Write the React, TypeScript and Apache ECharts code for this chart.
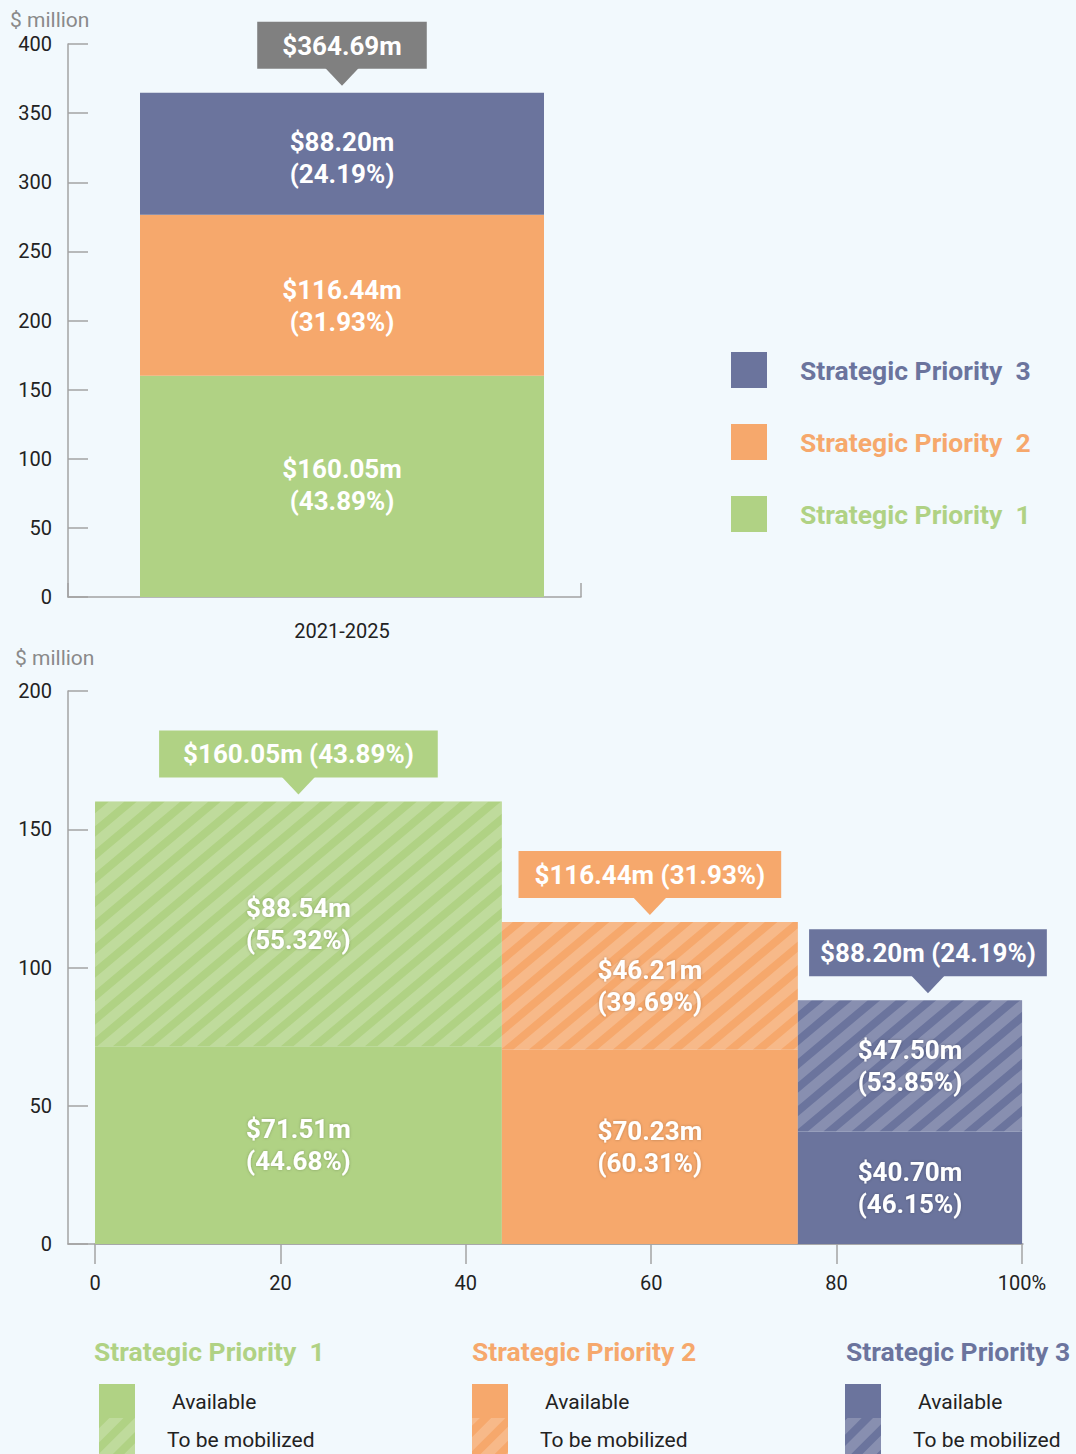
import React, { useEffect, useRef } from 'react';
import * as echarts from 'echarts';

// ---------------- data ----------------
const categories = ['2021-2025'];
const seriesNames = ['Strategic Priority  1', 'Strategic Priority  2', 'Strategic Priority  3'];
const bottomTitles = ['Strategic Priority  1', 'Strategic Priority 2', 'Strategic Priority 3'];
const priorityTotals = [160.05, 116.44, 88.2];
const priorityShares = [43.89, 31.93, 24.19];
const grandTotal = 364.69;
const availableAmounts = [71.51, 70.23, 40.7];
const availableShares = [44.68, 60.31, 46.15];
const mobilizeAmounts = [88.54, 46.21, 47.5];
const mobilizeShares = [55.32, 39.69, 53.85];
const legendRowLabels = ['Available', 'To be mobilized'];
const shareTickLabels = ['0', '20', '40', '60', '80', '100%'];
const unitLabel = '$ million';

// ---------------- style ----------------
const COLORS = ['#b0d284', '#f6a86c', '#6b749d'];
const TOTAL_COLOR = '#808080';
const BG = '#f2f9fd';
const AXIS = '#a3a3a3';
const FONT = 'Roboto, "Noto Sans", sans-serif';
const HATCH = 'rgba(255,255,255,0.2)';
const calloutNudge = [0, 0, 18];
const calloutPadX = [24, 16, 11];
const topCalloutPadX = 25;
const topLabelNudge = [-1, 11, 4];
const BIG = 26;

type Pt = [number, number];

function clipPoly(poly: Pt[], f: (p: Pt) => number): Pt[] {
  const out: Pt[] = [];
  const n = poly.length;
  for (let i = 0; i < n; i++) {
    const a = poly[i];
    const b = poly[(i + 1) % n];
    const fa = f(a);
    const fb = f(b);
    if (fa >= 0) out.push(a);
    if ((fa >= 0) !== (fb >= 0)) {
      const t = fa / (fa - fb);
      out.push([a[0] + t * (b[0] - a[0]), a[1] + t * (b[1] - a[1])]);
    }
  }
  return out;
}

// "/" stripes at angle theta (deg) above horizontal
function stripePolys(x0: number, y0: number, x1: number, y1: number, period = 18, width = 10, theta = 40): Pt[][] {
  const polys: Pt[][] = [];
  const sn = Math.sin((theta * Math.PI) / 180);
  const cs = Math.cos((theta * Math.PI) / 180);
  const s = (p: Pt) => p[0] * sn + p[1] * cs;
  const corners: Pt[] = [
    [x0, y0],
    [x1, y0],
    [x1, y1],
    [x0, y1],
  ];
  const vals = corners.map(s);
  const sMin = Math.min(...vals);
  const sMax = Math.max(...vals);
  for (let c = Math.floor(sMin / period) * period; c < sMax; c += period) {
    let poly = corners.slice();
    poly = clipPoly(poly, (p) => s(p) - c);
    poly = clipPoly(poly, (p) => c + width - s(p));
    if (poly.length >= 3) polys.push(poly);
  }
  return polys;
}

const money = (v: number) => `$${v.toFixed(2)}m`;

function buildOption() {
  // Marimekko rectangles
  const rectData: number[][] = [];
  const calloutData: number[][] = [];
  let cum = 0;
  priorityShares.forEach((share, i) => {
    const x0 = cum;
    const x1 = cum + share;
    cum = x1;
    const top = availableAmounts[i] + mobilizeAmounts[i];
    rectData.push([x0, x1, 0, availableAmounts[i], i, 0]);
    rectData.push([x0, x1, availableAmounts[i], top, i, 1]);
    calloutData.push([(x0 + x1) / 2, top, i]);
  });

  const topBars = seriesNames.map((name, i) => ({
    name,
    type: 'bar',
    stack: 'total',
    xAxisIndex: 0,
    yAxisIndex: 0,
    barWidth: 404,
    data: [priorityTotals[i]],
    itemStyle: { color: COLORS[i] },
    label: {
      show: true,
      position: 'inside',
      offset: [0, topLabelNudge[i]],
      color: '#fff',
      fontSize: BIG,
      fontWeight: 'bold',
      fontFamily: FONT,
      lineHeight: 32,
      formatter: (p: any) => `${money(p.value)}\n(${priorityShares[i].toFixed(2)}%)`,
    },
  }));

  const callout = (x: number, yTop: number, color: string, text: string, padX: number) => {
    const boxBottom = yTop - 24;
    return [
      {
        type: 'polygon',
        shape: { points: [[x - 17, boxBottom - 1], [x + 17, boxBottom - 1], [x, boxBottom + 17]] },
        style: { fill: color },
      },
      {
        type: 'text',
        x,
        y: boxBottom,
        style: {
          text,
          fill: '#fff',
          fontSize: BIG,
          fontWeight: 'bold',
          fontFamily: FONT,
          align: 'center',
          verticalAlign: 'bottom',
          backgroundColor: color,
          padding: [11, padX, 10, padX],
        },
      },
    ];
  };

  const topCallout = {
    type: 'custom',
    name: 'total',
    xAxisIndex: 0,
    yAxisIndex: 0,
    z: 5,
    data: [[0, grandTotal]],
    renderItem: (params: any, api: any) => {
      const p = api.coord([api.value(0), api.value(1)]);
      return {
        type: 'group',
        children: callout(p[0], p[1], TOTAL_COLOR, money(api.value(1)), topCalloutPadX),
      };
    },
  };

  const rects = {
    type: 'custom',
    name: 'mekko',
    xAxisIndex: 2,
    yAxisIndex: 2,
    encode: { x: [0, 1], y: [2, 3] },
    data: rectData,
    renderItem: (params: any, api: any) => {
      const x0 = api.value(0);
      const x1 = api.value(1);
      const y0 = api.value(2);
      const y1 = api.value(3);
      const i = api.value(4);
      const kind = api.value(5);
      const tl = api.coord([x0, y1]);
      const br = api.coord([x1, y0]);
      const w = br[0] - tl[0];
      const h = br[1] - tl[1];
      const children: any[] = [
        { type: 'rect', shape: { x: tl[0], y: tl[1], width: w, height: h }, style: { fill: COLORS[i] } },
      ];
      if (kind === 1) {
        stripePolys(tl[0], tl[1], br[0], br[1]).forEach((pts) =>
          children.push({ type: 'polygon', shape: { points: pts }, style: { fill: HATCH } })
        );
      }
      const v = kind === 1 ? mobilizeAmounts[i] : availableAmounts[i];
      const pct = kind === 1 ? mobilizeShares[i] : availableShares[i];
      children.push({
        type: 'text',
        x: tl[0] + w / 2,
        y: tl[1] + h / 2,
        style: {
          text: `${money(v)}\n(${pct.toFixed(2)}%)`,
          fill: '#fff',
          fontSize: BIG,
          fontWeight: 'bold',
          fontFamily: FONT,
          align: 'center',
          verticalAlign: 'middle',
          lineHeight: 32,
          textShadowColor: 'rgba(0,0,0,0.25)',
          textShadowBlur: 3,
        },
      });
      return { type: 'group', children };
    },
  };

  const bottomCallouts = {
    type: 'custom',
    name: 'callouts',
    xAxisIndex: 2,
    yAxisIndex: 2,
    z: 5,
    encode: { x: 0, y: 1 },
    data: calloutData,
    renderItem: (params: any, api: any) => {
      const i = api.value(2);
      const p = api.coord([api.value(0), api.value(1)]);
      return {
        type: 'group',
        children: callout(
          p[0] + calloutNudge[i],
          p[1],
          COLORS[i],
          `${money(priorityTotals[i])} (${priorityShares[i].toFixed(2)}%)`,
          calloutPadX[i]
        ),
      };
    },
  };

  // texts and bottom legend (graphic)
  const graphic: any[] = [
    { type: 'text', x: 10, y: 20, style: { text: unitLabel, fill: '#8a8a8a', fontSize: 21, fontFamily: FONT, verticalAlign: 'middle' } },
    { type: 'text', x: 15, y: 658, style: { text: unitLabel, fill: '#8a8a8a', fontSize: 21, fontFamily: FONT, verticalAlign: 'middle' } },
  ];
  const titleX = [94, 472, 846];
  const swatchX = [99, 472, 845];
  bottomTitles.forEach((t, i) => {
    graphic.push({
      type: 'text',
      x: titleX[i],
      y: 1351,
      style: { text: t, fill: COLORS[i], fontSize: 26.5, fontWeight: 'bold', fontFamily: FONT, verticalAlign: 'middle' },
    });
    const sx = swatchX[i];
    graphic.push({ type: 'rect', shape: { x: sx, y: 1384, width: 36, height: 34 }, style: { fill: COLORS[i] } });
    graphic.push({ type: 'rect', shape: { x: sx, y: 1418, width: 36, height: 36 }, style: { fill: COLORS[i] } });
    stripePolys(sx, 1418, sx + 36, 1454, 18, 10, 45).forEach((pts) =>
      graphic.push({ type: 'polygon', shape: { points: pts }, style: { fill: HATCH } })
    );
    legendRowLabels.forEach((lab, r) => {
      graphic.push({
        type: 'text',
        x: sx + (r === 0 ? 73 : 68),
        y: r === 0 ? 1402 : 1440,
        style: { text: lab, fill: '#222', fontSize: 21, fontFamily: FONT, verticalAlign: 'middle' },
      });
    });
  });

  const hiddenY = (gridIndex: number) => ({ gridIndex, type: 'value', min: 0, max: 1, show: false });

  return {
    animation: false,
    backgroundColor: BG,
    textStyle: { fontFamily: FONT },
    grid: [
      { left: 68, top: 44, width: 548, height: 553 },
      { left: 68, top: 44, width: 513, height: 553 },
      { left: 95, top: 691, width: 927, height: 553 },
      { left: 68, top: 691, width: 955, height: 553 },
    ],
    xAxis: [
      {
        gridIndex: 0,
        type: 'category',
        data: categories,
        axisLine: { show: false },
        axisTick: { show: false },
        axisLabel: { fontSize: 20, color: '#222', margin: 24, fontFamily: FONT },
      },
      {
        gridIndex: 1,
        type: 'value',
        min: 0,
        max: 1,
        interval: 1,
        axisLine: { show: true, lineStyle: { color: AXIS, width: 1.5 } },
        axisTick: { show: true, inside: true, length: 14, lineStyle: { color: AXIS, width: 1.5 } },
        axisLabel: { show: false },
        splitLine: { show: false },
      },
      {
        gridIndex: 2,
        type: 'value',
        min: 0,
        max: 100,
        interval: 20,
        axisLine: { show: true, lineStyle: { color: AXIS, width: 1.5 } },
        axisTick: { show: true, inside: false, length: 20, lineStyle: { color: AXIS, width: 1.5 } },
        axisLabel: {
          fontSize: 20,
          color: '#222',
          margin: 29,
          fontFamily: FONT,
          formatter: (v: number) => shareTickLabels[Math.round(v / 20)],
        },
        splitLine: { show: false },
      },
      {
        gridIndex: 3,
        type: 'value',
        min: 0,
        max: 1,
        axisLine: { show: true, lineStyle: { color: AXIS, width: 1.5 } },
        axisTick: { show: false },
        axisLabel: { show: false },
        splitLine: { show: false },
      },
    ],
    yAxis: [
      {
        gridIndex: 0,
        type: 'value',
        min: 0,
        max: 400,
        interval: 50,
        axisLine: { show: true, onZero: false, lineStyle: { color: AXIS, width: 1.5 } },
        axisTick: { show: true, inside: true, length: 20, lineStyle: { color: AXIS, width: 1.5 } },
        axisLabel: { fontSize: 20, color: '#222', margin: 16, fontFamily: FONT },
        splitLine: { show: false },
      },
      hiddenY(1),
      {
        gridIndex: 2,
        type: 'value',
        min: 0,
        max: 200,
        interval: 50,
        offset: 27,
        axisLine: { show: true, onZero: false, lineStyle: { color: AXIS, width: 1.5 } },
        axisTick: { show: true, inside: true, length: 20, lineStyle: { color: AXIS, width: 1.5 } },
        axisLabel: { fontSize: 20, color: '#222', margin: 16, fontFamily: FONT },
        splitLine: { show: false },
      },
      hiddenY(3),
    ],
    legend: {
      orient: 'vertical',
      left: 731,
      top: 352,
      padding: 0,
      icon: 'rect',
      itemWidth: 36,
      itemHeight: 36,
      itemGap: 36,
      selectedMode: false,
      textStyle: { fontSize: 26.5, fontWeight: 'bold', fontFamily: FONT, padding: [0, 0, 0, 28] },
      data: [2, 1, 0].map((i) => ({ name: seriesNames[i], textStyle: { color: COLORS[i] } })),
    },
    graphic,
    series: [...topBars, topCallout, rects, bottomCallouts],
  };
}

export default function App() {
  const ref = useRef<HTMLDivElement>(null);
  useEffect(() => {
    if (!ref.current) return;
    const chart = echarts.init(ref.current, undefined, { renderer: 'svg' });
    chart.setOption(buildOption() as any);
    return () => chart.dispose();
  }, []);
  return (
    <div
      ref={ref}
      style={{ position: 'absolute', left: 0, top: 0, width: 1076, height: 1454, background: BG }}
    />
  );
}
